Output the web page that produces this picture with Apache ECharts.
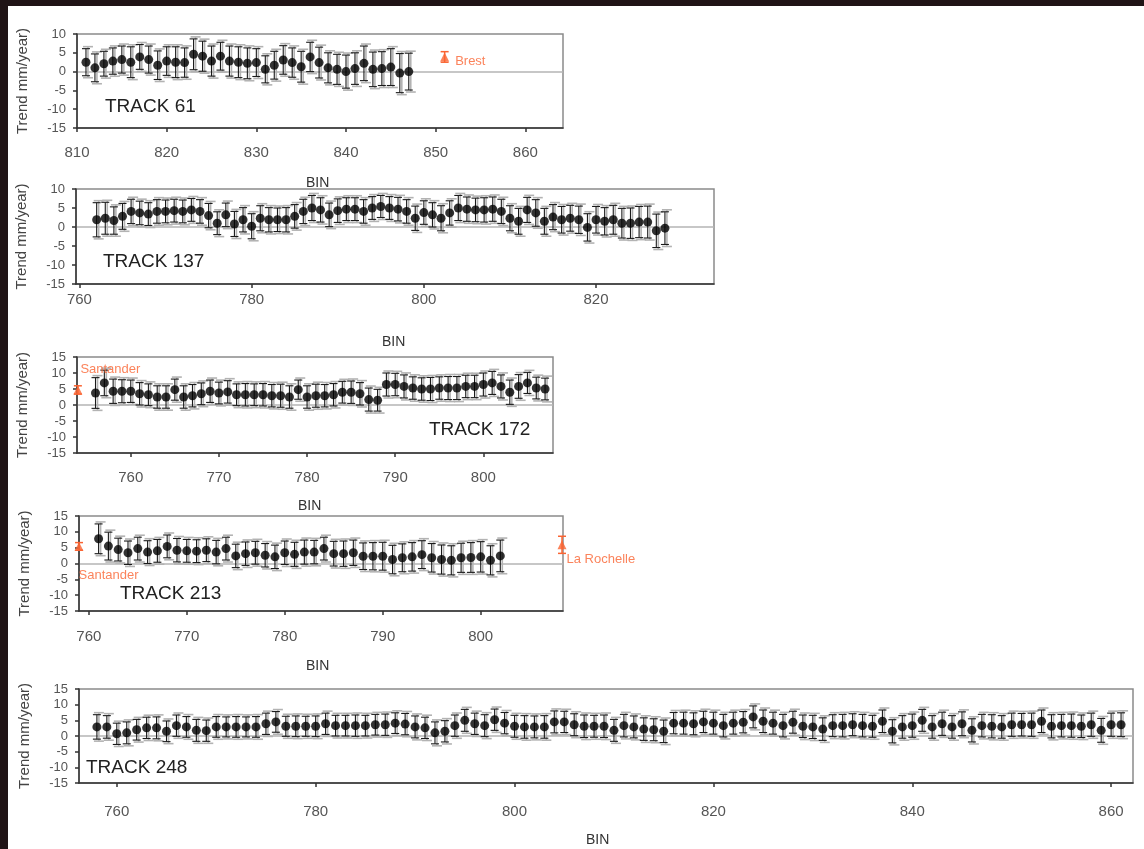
<!DOCTYPE html>
<html>
<head>
<meta charset="utf-8">
<script src="https://cdn.jsdelivr.net/npm/echarts@6/dist/echarts.min.js"></script>
<style>
html,body{margin:0;padding:0;background:#fff;}
#c{width:1144px;height:849px;}
</style>
</head>
<body>
<div id="c"></div>
<script>
// ---------------- DATA ----------------
const t61Bins = [811,812,813,814,815,816,817,818,819,820,821,822,823,824,825,826,827,828,829,830,831,832,833,834,835,836,837,838,839,840,841,842,843,844,845,846,847];
const t61Vals = [2.5,1.0,2.1,2.8,3.2,2.5,3.9,3.2,1.7,2.8,2.5,2.4,4.6,4.1,2.8,4.1,2.8,2.5,2.2,2.4,0.6,1.7,3.1,2.4,1.3,3.9,2.4,1.0,0.6,0.0,0.8,2.2,0.6,0.8,1.2,-0.4,0.0];
const t61Errs = [3.6,3.7,3.3,3.5,3.6,4.1,3.3,3.6,3.8,3.8,4.1,3.9,4.1,4.0,4.0,3.7,4.0,4.1,4.1,3.7,3.6,3.7,3.8,3.9,4.1,3.9,4.1,4.0,4.0,4.4,4.2,4.6,4.6,4.5,4.9,5.2,4.9];

const t137Bins = [762,763,764,765,766,767,768,769,770,771,772,773,774,775,776,777,778,779,780,781,782,783,784,785,786,787,788,789,790,791,792,793,794,795,796,797,798,799,800,801,802,803,804,805,806,807,808,809,810,811,812,813,814,815,816,817,818,819,820,821,822,823,824,825,826,827,828];
const t137Vals = [1.9,2.3,1.7,2.8,4.1,3.7,3.4,4.1,4.1,4.3, 4.1,4.5,4.1,3.0,1.0,3.2,0.8,1.9,0.2,2.3, 1.9,1.9,1.9,2.8,4.1,5.0,4.5,3.2,4.3,4.7, 4.7,4.1,5.0,5.4,5.0,4.7,4.1,2.3,3.8,3.2, 2.3,3.7,5.0,4.7,4.5,4.5,4.7,4.1,2.3,1.5, 4.5,3.7,1.5,2.6,1.9,2.3,1.9,-0.1,1.9,1.5, 1.9,1.0,1.0,1.3,1.3,-1.0,-0.3];
const t137Errs = [4.5,4.2,3.6,3.4,3.2,3.1,3.0,3.1,3.0,3.0, 3.0,3.0,3.1,3.2,3.0,3.1,3.3,3.2,3.3,3.3, 3.2,3.1,3.2,3.1,3.2,3.3,3.2,3.1,3.1,3.0, 3.0,3.1,3.0,2.9,3.0,3.1,3.1,3.2,3.1,3.2, 3.3,3.2,3.3,3.2,3.1,3.2,3.2,3.2,3.3,3.4, 3.3,3.5,3.4,3.3,3.5,3.4,3.6,3.6,3.5,3.6, 3.8,3.9,4.0,4.1,4.2,4.4,4.3];

const t172Bins = [756,757,758,759,760,761,762,763,764,765,766,767,768,769,770,771,772,773,774,775,776,777,778,779,780,781,782,783,784,785,786,787,788,789,790,791,792,793,794,795,796,797,798,799,800,801,802,803,804,805,806,807];
const t172Vals = [3.75,6.9,4.3,4.3,4.3,3.5,3.2,2.5,2.5,4.8, 2.5,2.9,3.5,4.3,3.75,4.1,3.2,3.2,3.2,3.2, 2.9,2.9,2.5,4.8,2.5,2.9,2.9,3.2,4.0,4.0, 3.5,1.7,1.5,6.4,6.4,5.8,5.3,5.0,5.0,5.3, 5.3,5.3,5.8,5.8,6.4,6.9,5.8,4.0,5.8,6.9, 5.3,5.0];
const t172Errs = [4.8,4.0,3.8,3.6,3.5,3.5,3.4,3.5,3.5,3.3, 3.5,3.5,3.4,3.5,3.4,3.5,3.4,3.5,3.4,3.5, 3.5,3.6,3.5,3.0,3.5,3.6,3.5,3.5,3.4,3.5, 3.5,3.6,3.4,3.6,3.5,3.6,3.5,3.5,3.6,3.5, 3.6,3.6,3.5,3.5,3.6,3.6,3.6,3.8,3.7,3.3, 3.4,3.4];

const t213Bins = [761,762,763,764,765,766,767,768,769,770,771,772,773,774,775,776,777,778,779,780,781,782,783,784,785,786,787,788,789,790,791,792,793,794,795,796,797,798,799,800,801,802];
const t213Vals = [7.8,5.5,4.4,3.4,4.7,3.6,4.0,5.4,4.2,4.0, 3.9,4.2,3.6,4.7,2.4,3.1,3.4,2.6,2.1,3.4, 2.9,3.6,3.6,4.7,3.1,3.1,3.4,2.3,2.3,2.3, 1.25,1.8,2.1,2.8,1.8,1.25,1.0,1.8,1.9,2.1, 1.0,2.4];
const t213Errs = [4.7,4.4,3.6,3.7,3.6,3.6,3.6,3.6,3.7,3.6, 3.6,3.6,3.7,3.6,3.7,3.7,3.6,3.7,3.7,3.7, 3.8,3.8,3.7,3.6,3.9,4.0,4.0,4.2,4.3,4.4, 4.5,4.4,4.5,4.4,4.5,4.6,4.6,4.6,4.7,4.8, 4.6,5.0];

const t248Bins = [758,759,760,761,762,763,764,765,766,767,768,769,770,771,772,773,774,775,776,777,778,779,780,781,782,783,784,785,786,787,788,789,790,791,792,793,794,795,796,797,798,799,800,801,802,803,804,805,806,807,808,809,810,811,812,813,814,815,816,817,818,819,820,821,822,823,824,825,826,827,828,829,830,831,832,833,834,835,836,837,838,839,840,841,842,843,844,845,846,847,848,849,850,851,852,853,854,855,856,857,858,859,860,861];
const t248Vals = [2.9,2.9,0.7,1.0,2.0,2.6,2.6,1.5,3.3,2.9, 1.8,1.7,2.9,2.9,2.9,2.9,2.9,3.9,4.5,3.1, 3.1,3.1,3.1,3.9,3.3,3.3,3.3,3.3,3.6,3.6, 4.1,3.8,2.9,2.6,1.0,1.5,3.3,5.0,3.9,3.3, 5.2,4.1,3.1,2.9,2.9,2.9,4.5,4.5,3.6,3.1, 3.1,3.1,1.8,3.3,2.9,2.2,2.0,1.5,4.1,4.1, 3.9,4.5,4.1,3.3,4.1,4.4,6.1,4.7,4.1,3.3, 4.4,3.1,2.9,2.2,3.3,3.3,3.6,3.3,3.1,4.7, 1.5,2.9,3.3,5.0,2.9,3.9,2.9,3.9,1.8,3.3, 3.1,2.9,3.6,3.6,3.6,4.7,3.1,3.3,3.3,3.1, 3.6,1.8,3.6,3.6];
const t248Errs = [3.9,3.6,3.4,3.5,3.3,3.4,3.5,3.3,3.4,3.3, 3.5,3.4,3.3,3.2,3.3,3.2,3.3,3.4,3.3,3.2, 3.3,3.2,3.3,3.4,3.3,3.3,3.4,3.3,3.3,3.4, 3.3,3.4,3.5,3.4,3.5,3.4,3.4,3.5,3.4,3.5, 3.4,3.4,3.5,3.6,3.5,3.6,3.5,3.4,3.5,3.6, 3.5,3.6,3.5,3.6,3.5,3.6,3.5,3.6,3.4,3.5, 3.5,3.4,3.5,3.6,3.5,3.4,3.5,3.6,3.5,3.6, 3.5,3.6,3.7,3.6,3.5,3.6,3.5,3.6,3.5,3.6, 3.7,3.6,3.7,3.5,3.6,3.7,3.6,3.8,3.7,3.6, 3.7,3.6,3.7,3.6,3.7,3.6,3.7,3.6,3.7,3.6, 3.7,3.8,3.7,3.8];

const trackNames = ['TRACK 61','TRACK 137','TRACK 172','TRACK 213','TRACK 248'];
const xTicks61 = [810,820,830,840,850,860];
const xTicks137 = [760,780,800,820];
const xTicks172 = [760,770,780,790,800];
const xTicks213 = [760,770,780,790,800];
const xTicks248 = [760,780,800,820,840,860];

// tide gauge stations
const stationNames = ['Brest','Santander','Santander','La Rochelle'];
const stationPanel = [0,2,3,3];
const stationBins  = [851,754,759,808.3];
const stationVals  = [3.9,4.7,5.4,5.9];
const stationErrs  = [1.4,1.3,1.2,2.7];

const yTitle = 'Trend mm/year)';
const xTitle = 'BIN';

// ---------------- LAYOUT / STYLE ----------------
const FONT = '"Liberation Sans", Arial, Helvetica, sans-serif';
const ORANGE = '#fa6432';
const panels = [
  {bins:t61Bins, vals:t61Vals, errs:t61Errs, ticks:xTicks61, left:77, top:34, width:486, height:94, xmin:810, xmax:864.2, ymax:10, lm:17,
   track:{x:105, y:97}, binPos:{x:320, y:176}},
  {bins:t137Bins, vals:t137Vals, errs:t137Errs, ticks:xTicks137, left:76, top:189, width:638, height:95, xmin:759.6, xmax:833.7, ymax:10, lm:8,
   track:{x:103, y:252}, binPos:{x:396, y:335}},
  {bins:t172Bins, vals:t172Vals, errs:t172Errs, ticks:xTicks172, left:77, top:357, width:476, height:96, xmin:753.9, xmax:807.9, ymax:15, lm:17,
   track:{x:429, y:420}, binPos:{x:312, y:499}},
  {bins:t213Bins, vals:t213Vals, errs:t213Errs, ticks:xTicks213, left:79, top:516, width:484, height:95, xmin:759, xmax:808.4, ymax:15, lm:18,
   track:{x:120, y:584}, binPos:{x:320, y:659}},
  {bins:t248Bins, vals:t248Vals, errs:t248Errs, ticks:xTicks248, left:79, top:689, width:1054, height:94, xmin:756.2, xmax:862.2, ymax:15, lm:21,
   track:{x:86, y:758}, binPos:{x:600, y:833}}
];
const stationLabelStyle = [
  {position:'right', distance:6, offset:[0,4]},
  {position:'right', distance:0, offset:[-2,-21]},
  {position:'right', distance:0, offset:[-5,29]},
  {position:'right', distance:0, offset:[0,15]}
];

function errRender(color, capHalf, dx, ext, lw) {
  return function (params, api) {
    const x = api.value(0), y = api.value(1), e = api.value(2);
    const top = api.coord([x, y + e]);
    const bot = api.coord([x, y - e]);
    const cx = top[0] + dx;
    const y1 = top[1] - ext, y2 = bot[1] + ext;
    const style = {stroke: color, lineWidth: lw, fill: null};
    return {type: 'group', children: [
      {type: 'line', shape: {x1: cx, y1: y1, x2: cx, y2: y2}, style: style},
      {type: 'line', shape: {x1: cx - capHalf, y1: y1, x2: cx + capHalf, y2: y1}, style: style},
      {type: 'line', shape: {x1: cx - capHalf, y1: y2, x2: cx + capHalf, y2: y2}, style: style}
    ]};
  };
}

const grid = [], xAxis = [], yAxis = [], series = [], graphic = [];

graphic.push({type:'rect', left:0, top:0, shape:{width:1144, height:6}, style:{fill:'#201416'}, z:100});
graphic.push({type:'rect', left:0, top:0, shape:{width:8, height:849}, style:{fill:'#201416'}, z:100});

panels.forEach((p, i) => {
  grid.push({left:p.left, top:p.top, width:p.width, height:p.height, show:true,
             borderColor:'#8a8a8a', borderWidth:1.5, backgroundColor:'#fff'});
  xAxis.push({type:'value', gridIndex:i, min:p.xmin, max:p.xmax,
    axisLine:{show:true, onZero:false, lineStyle:{color:'#333', width:1.5}},
    axisTick:{show:true, customValues:p.ticks, length:4, lineStyle:{color:'#333', width:1.5}},
    axisLabel:{customValues:p.ticks, margin:p.lm, fontSize:15, color:'#555', fontFamily:FONT},
    splitLine:{show:false}});
  yAxis.push({type:'value', gridIndex:i, min:-15, max:p.ymax, interval:5,
    name:yTitle, nameLocation:'middle', nameRotate:90, nameGap:47,
    nameTextStyle:{fontSize:15, color:'#444', fontFamily:FONT},
    axisLine:{show:true, lineStyle:{color:'#333', width:1.5}},
    axisTick:{show:true, length:4, lineStyle:{color:'#333', width:1.5}},
    axisLabel:{margin:11, fontSize:13, color:'#555', fontFamily:FONT},
    splitLine:{show:false}});
  const d = p.bins.map((b, k) => [b, p.vals[k], p.errs[k]]);
  series.push({type:'custom', xAxisIndex:i, yAxisIndex:i, renderItem:errRender('#b3b3b3', 5, 2, 2, 1.6), data:d, z:1, silent:true});
  series.push({type:'custom', xAxisIndex:i, yAxisIndex:i, renderItem:errRender('#1a1a1a', 4, 0, 0, 1.1), data:d, z:2, silent:true});
  series.push({type:'scatter', xAxisIndex:i, yAxisIndex:i, symbol:'circle', symbolSize:9,
    itemStyle:{color:'#000'}, data:d.map(v => [v[0], v[1]]), z:3, silent:true,
    markLine:{silent:true, symbol:'none', label:{show:false},
      lineStyle:{color:'#b5b5b5', width:1.5, type:'solid'}, data:[{yAxis:0}], z:0}});
  graphic.push({type:'text', left:p.track.x, top:p.track.y,
    style:{text:trackNames[i], fontSize:19, fill:'#222', fontFamily:FONT}});
  graphic.push({type:'text', left:p.binPos.x - 14, top:p.binPos.y,
    style:{text:xTitle, fontSize:14, fill:'#333', fontFamily:FONT}, z:-1});
});

stationNames.forEach((name, s) => {
  const pi = stationPanel[s];
  const d = [[stationBins[s], stationVals[s], stationErrs[s]]];
  series.push({type:'custom', xAxisIndex:pi, yAxisIndex:pi, renderItem:errRender(ORANGE, 4, 0, 0, 1.5), data:d, z:4, clip:false, silent:true});
  series.push({type:'scatter', xAxisIndex:pi, yAxisIndex:pi, symbol:'triangle', symbolSize:9, clip:false,
    itemStyle:{color:ORANGE}, data:[[stationBins[s], stationVals[s]]], z:5, silent:true,
    label:Object.assign({show:true, formatter:name, color:ORANGE, fontSize:13, fontFamily:FONT}, stationLabelStyle[s])});
});

const chart = echarts.init(document.getElementById('c'), null, {renderer:'canvas'});
chart.setOption({backgroundColor:'#fff', animation:false, grid, xAxis, yAxis, series, graphic});
</script>
</body>
</html>
